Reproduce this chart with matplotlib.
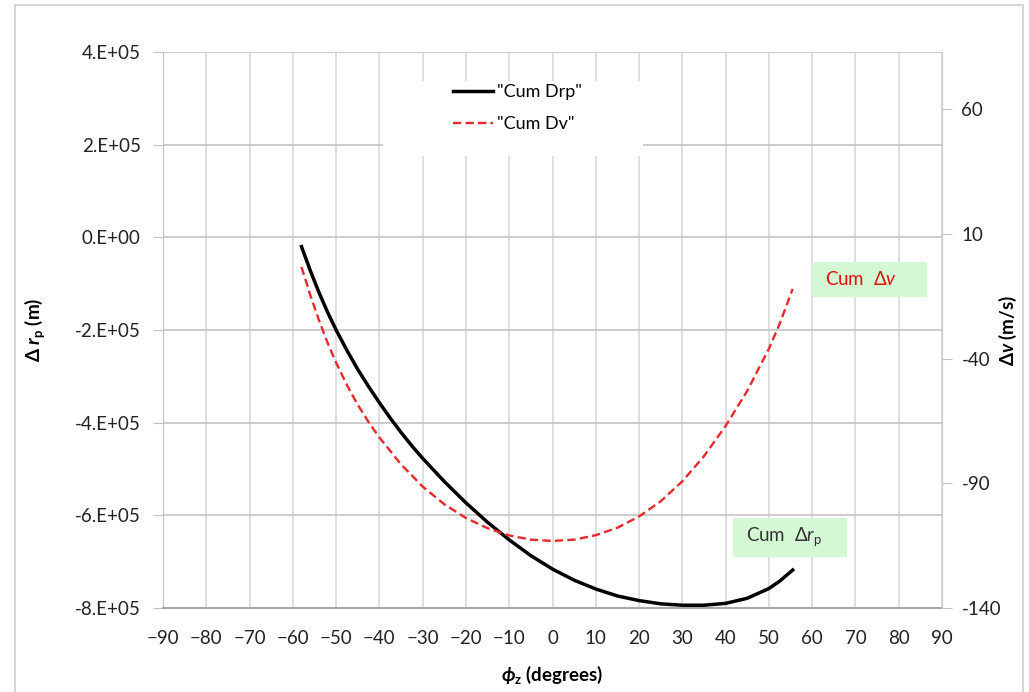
import numpy as np
import matplotlib
matplotlib.use('Agg')
import matplotlib.pyplot as plt
from matplotlib.lines import Line2D
from matplotlib.patches import Rectangle

plt.rcParams['font.family'] = ['Lato', 'DejaVu Sans']
plt.rcParams['axes.unicode_minus'] = False
plt.rcParams['mathtext.fontset'] = 'custom'
plt.rcParams['mathtext.rm'] = 'Lato'
plt.rcParams['mathtext.it'] = 'Lato:italic'
plt.rcParams['mathtext.bf'] = 'Lato:bold'
plt.rcParams['mathtext.bfit'] = 'Lato:italic:bold'

# ---- data ----
phi_drp = [-58, -56, -54, -52, -50, -47.5, -45, -42.5, -40, -37.5, -35, -32.5, -30, -25, -20,
           -15, -10, -5, 0, 5, 10, 15, 20, 25, 30, 35, 40, 45, 50, 52.5, 55.5]
cum_drp = [-0.20e5, -0.71e5, -1.18e5, -1.61e5, -2.00e5, -2.44e5, -2.85e5, -3.22e5, -3.57e5,
           -3.90e5, -4.21e5, -4.50e5, -4.77e5, -5.27e5, -5.73e5, -6.15e5, -6.53e5, -6.87e5,
           -7.16e5, -7.40e5, -7.59e5, -7.74e5, -7.84e5, -7.91e5, -7.94e5, -7.94e5, -7.90e5,
           -7.79e5, -7.58e5, -7.42e5, -7.18e5]

phi_dv = [-58, -56, -54, -52, -50, -47.5, -45, -42.5, -40, -35, -30, -25, -20, -15, -10, -5,
          0, 5, 10, 15, 20, 25, 30, 35, 40, 45, 50, 52.5, 55.5]
cum_dv = [-3.2, -14.3, -24.4, -33.5, -41.6, -50.6, -58.5, -65.4, -71.6, -82.4, -91.3, -98.4,
          -103.9, -108.0, -110.9, -112.6, -113.1, -112.6, -110.8, -107.8, -103.3, -97.2,
          -89.2, -79.1, -67.0, -52.9, -36.0, -26.0, -12.0]

x_ticks = list(range(-90, 91, 10))
left_ticks = [4e5, 2e5, 0, -2e5, -4e5, -6e5, -8e5]
left_labels = ['4.E+05', '2.E+05', '0.E+00', '-2.E+05', '-4.E+05', '-6.E+05', '-8.E+05']
right_ticks = [60, 10, -40, -90, -140]

W, H = 1029, 692
fig = plt.figure(figsize=(W / 100, H / 100), dpi=100, facecolor='white')
ax = fig.add_axes([163 / W, 1 - 608 / H, (942 - 163) / W, (608 - 52) / H])
ax2 = ax.twinx()

# outer chart frame
fig.patches.append(Rectangle((15 / W, -0.1), (1023 - 15) / W, 1.1 - 5 / H,
                             transform=fig.transFigure, fill=False,
                             edgecolor='#d0d0d0', lw=1.2))

ax.set_xlim(-90, 90)
ax.set_ylim(-8e5, 4e5)
ax2.set_ylim(-140, 83)

ax.set_axisbelow(True)
ax.xaxis.grid(True, color='#d9d9d9', lw=1.2)
ax.yaxis.grid(True, color='#c4c4c4', lw=1.2)

ax.spines['top'].set_visible(False)
ax2.spines['top'].set_visible(False)
ax.spines['left'].set_color('#c0c0c0')
ax.spines['bottom'].set_color('#a8a8a8')
ax.spines['bottom'].set_linewidth(1.5)
ax2.spines['left'].set_visible(False)
ax2.spines['bottom'].set_visible(False)
ax2.spines['right'].set_color('#c8c8c8')
ax.spines['right'].set_visible(False)

ax.set_xticks(x_ticks)
ax.set_xticklabels([f'{t}'.replace('-', '\u2212') for t in x_ticks])
ax.tick_params(axis='x', length=0, pad=16, labelsize=13.5, colors='#222222')
ax.set_yticks(left_ticks)
ax.set_yticklabels(left_labels)
ax.tick_params(axis='y', length=7, color='#c0c0c0', pad=9, labelsize=13.5, labelcolor='#222222')
ax2.set_yticks(right_ticks)
ax2.tick_params(axis='y', length=7, color='#c0c0c0', pad=7, labelsize=13.5, labelcolor='#222222')

# white legend background hiding the grid
ax.add_patch(Rectangle((-39.2, 1.75e5), 60.2, 1.62e5, facecolor='white',
                       edgecolor='none', zorder=1))

red = '#e8282b'
dash = (0, (3.5, 1.8))
ax.plot(phi_drp, cum_drp, color='black', lw=2.5, zorder=3, solid_joinstyle='round')
ax2.plot(phi_dv, cum_dv, color=red, lw=1.7, ls=dash, zorder=3)

handles = [Line2D([], [], color='black', lw=2.5),
           Line2D([], [], color=red, lw=1.7, ls=dash)]
ax2.legend(handles, ['"Cum Drp"', '"Cum Dv"'], loc='upper left',
           bbox_to_anchor=((453 - 163) / 779, 1 - (84 - 52) / 556), frameon=False,
           fontsize=13, handlelength=2.2, handletextpad=0.25, labelspacing=0.9,
           borderaxespad=0, borderpad=0)

# green callout boxes
box_green = '#d4f7d4'
ax.add_patch(Rectangle((59.9, -1.29e5), 26.6, 0.76e5, facecolor=box_green,
                       edgecolor='none', zorder=4))
ax.text(62.9, -0.91e5, 'Cum  \u0394$\\mathit{v}$', color='#e01010', fontsize=13.5,
        ha='left', va='center', zorder=5)
ax.add_patch(Rectangle((41.8, -6.90e5), 26.2, 0.84e5, facecolor=box_green,
                       edgecolor='none', zorder=4))
ax.text(44.8, -6.46e5, 'Cum  \u0394$\\mathit{r}_\\mathrm{p}$', color='#333333', fontsize=13.5,
        ha='left', va='center', zorder=5)

ax.set_xlabel('$\\mathbfit{\\phi}_\\mathbf{z}$ (degrees)', fontsize=13.5, fontweight='bold')
ax.xaxis.set_label_coords(0.5, -(664 - 608) / 556)
ax.set_ylabel('\u0394 $\\mathbfit{r}_\\mathbf{p}$ (m)', fontsize=13.5, fontweight='bold')
ax.yaxis.set_label_coords((47 - 163) / 779, 0.5)
ax2.set_ylabel('\u0394$\\mathbfit{v}$ (m/s)', fontsize=13.5, fontweight='bold', rotation=90)
ax2.yaxis.set_label_coords((997 - 163) / 779, 0.5)

fig.savefig('out.png', dpi=100, facecolor='white')
